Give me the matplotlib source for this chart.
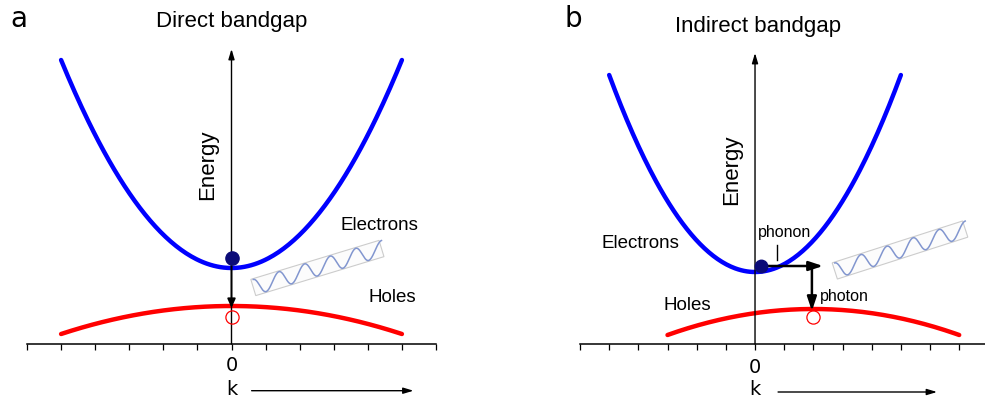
import numpy as np
import matplotlib
matplotlib.use("Agg")
import matplotlib.pyplot as plt
from matplotlib.patches import Rectangle
from matplotlib.transforms import Affine2D, ScaledTranslation

SANS = "Liberation Sans"
TICK_FONT = "DejaVu Sans"

# k grid ticks of each panel
k_ticks_direct = list(range(-6, 7))
k_ticks_indirect = list(range(-6, 8))

# parabolic bands: E(k) = e0 + curv * (k - k0)**2, drawn over span
direct_cb_k0, direct_cb_e0, direct_cb_curv = 0.0, 7.6, 0.832
direct_cb_span = [-5, 5]
direct_vb_k0, direct_vb_e0, direct_vb_curv = 0.0, 3.8, -0.112
direct_vb_span = [-5, 5]

indirect_cb_k0, indirect_cb_e0, indirect_cb_curv = 0.0, 7.2, 0.788
indirect_cb_span = [-5, 5]
indirect_vb_k0, indirect_vb_e0, indirect_vb_curv = 2.0, 3.5, -0.104
indirect_vb_span = [-3, 7]

# carriers (k, E)
direct_electron = (0.0, 8.6)
direct_hole = (0.0, 2.7)
direct_arrow_tip = 3.6
indirect_electron = (0.21, 7.8)
indirect_hole = (1.99, 2.7)
phonon_end_k = 2.33
photon_k = 1.95
photon_arrow_tip = 3.3

E_TOP = 30.4


def band(k0, e0, curv, span):
    k = np.linspace(span[0], span[1], 200)
    return k, e0 + curv * (k - k0) ** 2


def style_axis(ax, xlim, ticks, pad):
    ax.set_xlim(*xlim)
    ax.set_ylim(0, E_TOP)
    for side in ["top", "right", "left"]:
        ax.spines[side].set_visible(False)
    ax.spines["bottom"].set_linewidth(1.1)
    ax.set_yticks([])
    ax.set_xticks(ticks)
    ax.set_xticklabels(["0" if t == 0 else "" for t in ticks], fontfamily=TICK_FONT)
    ax.tick_params(axis="x", direction="out", length=4.5, width=0.9, pad=pad, labelsize=14)
    ax.patch.set_alpha(0)


def arrow(ax, start, end, lw=1.0, hl=0.5, hw=0.15, scale=12):
    ax.annotate("", xy=end, xytext=start, annotation_clip=False,
                arrowprops=dict(arrowstyle=f"-|>,head_length={hl},head_width={hw}",
                                mutation_scale=scale, lw=lw, color="k",
                                shrinkA=0, shrinkB=0))


def photon(ax, k, e, angle, length=134, height=17, cycles=5, amp=8):
    # small slanted wave packet, laid out in screen pixels around (k, e)
    anchor = ScaledTranslation(k, e, ax.transData)
    box = Rectangle((-length / 2, -height / 2), length, height,
                    transform=Affine2D().rotate_deg(angle) + anchor,
                    facecolor="#fcfcfc", edgecolor="#cccccc", lw=0.8, zorder=3)
    ax.add_patch(box)
    a = np.radians(angle)
    u = np.linspace(-length / 2, length / 2, 400)
    x = u * np.cos(a)
    y = u * np.sin(a) + amp * np.cos(2 * np.pi * cycles * (u / length + 0.5))
    ax.plot(x, y, color="#8296cf", lw=1.1, transform=anchor, zorder=4, clip_on=False)


fig = plt.figure(figsize=(9.85, 4.03), dpi=100)
ax_a = fig.add_axes([27 / 985, 59 / 403, 409 / 985, 304 / 403])
ax_b = fig.add_axes([580 / 985, 59 / 403, 405 / 985, 304 / 403])

style_axis(ax_a, (-6, 6), k_ticks_direct, pad=4)
style_axis(ax_b, (-6, 405 / 29.17 - 6), k_ticks_indirect, pad=5.5)

# ---- a: direct bandgap ----
ax_a.plot(*band(direct_cb_k0, direct_cb_e0, direct_cb_curv, direct_cb_span),
          color="#0000ff", lw=3.2, solid_capstyle="round", clip_on=False)
ax_a.plot(*band(direct_vb_k0, direct_vb_e0, direct_vb_curv, direct_vb_span),
          color="#ff0000", lw=3.2, solid_capstyle="round", clip_on=False)
arrow(ax_a, (0, 0), (0, 29.5))
arrow(ax_a, direct_electron, (0, direct_arrow_tip), lw=1.3, hl=0.45, hw=0.2)
ax_a.plot(*direct_electron, "o", ms=9.5, color="#0b0b78", zorder=6)
ax_a.plot(*direct_hole, "o", ms=9.5, mfc="none", mec="#ff0000", mew=0.9, zorder=6)
photon(ax_a, 2.52, 7.6, 16.9)

ax_a.text(-0.70, 17.9, "Energy", rotation=90, ha="center", va="center", fontsize=16, family=SANS)
ax_a.text(4.34, 11.9, "Electrons", ha="center", va="center", fontsize=13.5, family=SANS)
ax_a.text(4.72, 4.7, "Holes", ha="center", va="center", fontsize=13.5, family=SANS)
ax_a.text(0, 31.7, "Direct bandgap", ha="center", va="baseline", fontsize=16, family=SANS)
ax_a.text(0, -4.55, "k", ha="center", va="center", fontsize=14, family=TICK_FONT)
arrow(ax_a, (0.59, -4.67), (5.34, -4.67))

# ---- b: indirect bandgap ----
ax_b.plot(*band(indirect_cb_k0, indirect_cb_e0, indirect_cb_curv, indirect_cb_span),
          color="#0000ff", lw=3.2, solid_capstyle="round", clip_on=False)
ax_b.plot(*band(indirect_vb_k0, indirect_vb_e0, indirect_vb_curv, indirect_vb_span),
          color="#ff0000", lw=3.2, solid_capstyle="round", clip_on=False)
arrow(ax_b, (0, 0), (0, 29.1))
arrow(ax_b, indirect_electron, (phonon_end_k, indirect_electron[1]), lw=1.8, hl=0.6, hw=0.2, scale=14)
arrow(ax_b, (photon_k, indirect_electron[1]), (photon_k, photon_arrow_tip), lw=1.8, hl=0.6, hw=0.2, scale=14)
ax_b.plot(*indirect_electron, "o", ms=9, color="#0b0b78", zorder=6)
ax_b.plot(*indirect_hole, "o", ms=9.5, mfc="none", mec="#ff0000", mew=0.9, zorder=6)
ax_b.plot([0.75, 0.75], [8.4, 9.9], color="k", lw=1)
photon(ax_b, 4.97, 9.4, 17.8, length=137)

ax_b.text(-0.79, 17.4, "Energy", rotation=90, ha="center", va="center", fontsize=16, family=SANS)
ax_b.text(-3.94, 10.1, "Electrons", ha="center", va="center", fontsize=13.5, family=SANS)
ax_b.text(-2.33, 3.8, "Holes", ha="center", va="center", fontsize=13.5, family=SANS)
ax_b.text(1.0, 11.2, "phonon", ha="center", va="center", fontsize=11.5, family=SANS)
ax_b.text(3.05, 4.8, "photon", ha="center", va="center", fontsize=11.5, family=SANS)
ax_b.text(0.1, 31.2, "Indirect bandgap", ha="center", va="baseline", fontsize=16, family=SANS)
ax_b.text(0, -4.55, "k", ha="center", va="center", fontsize=14, family=TICK_FONT)
arrow(ax_b, (0.79, -4.8), (6.24, -4.8))

fig.text(19 / 985, 1 - 27 / 403, "a", ha="center", va="baseline", fontsize=20, family=TICK_FONT)
fig.text(573 / 985, 1 - 27 / 403, "b", ha="center", va="baseline", fontsize=20, family=TICK_FONT)

fig.savefig("out.png", dpi=100)
